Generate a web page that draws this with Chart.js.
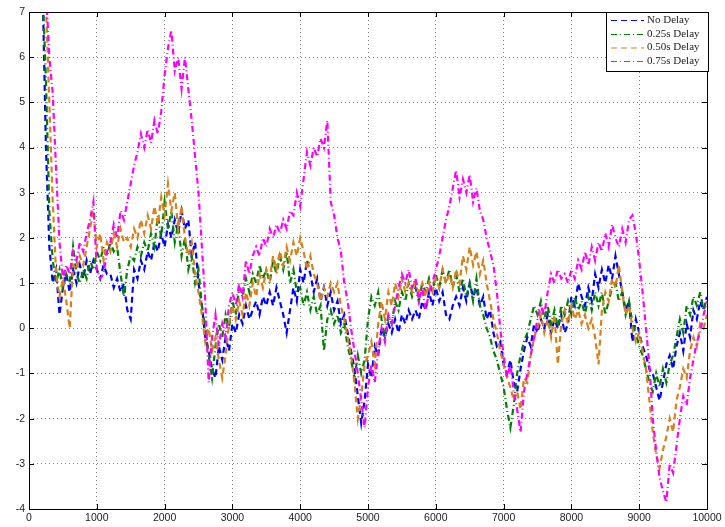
<!DOCTYPE html>
<html>
<head>
<meta charset="utf-8">
<script src="https://cdn.jsdelivr.net/npm/chart.js@4/dist/chart.umd.min.js"></script>
<style>
  html, body { margin: 0; padding: 0; background: #fff; }
  #wrap { width: 725px; height: 527px; }
</style>
</head>
<body>
<div id="wrap"><canvas id="c" width="725" height="527"></canvas></div>
<script>
// ---- data ----
const xStart = 200;     // first sample position
const xStep = 50;       // sample spacing
const xTicks = [0, 1000, 2000, 3000, 4000, 5000, 6000, 7000, 8000, 9000, 10000];
const yTicks = [-4, -3, -2, -1, 0, 1, 2, 3, 4, 5, 6, 7];
const seriesNames = ['No Delay', '0.25s Delay', '0.50s Delay', '0.75s Delay'];

const noDelay = [
  7.6, 4.0, 1.8, 1.0, 1.3, 0.3, 0.9, 1.2, 0.8, 1.3,
  1.0, 1.4, 1.1, 1.5, 1.2, 1.5, 1.3, 1.1, 1.4, 1.2,
  1.2, 0.9, 1.1, 0.8, 1.0, 0.4, 0.2, 1.3, 1.1, 1.5,
  1.3, 1.7, 1.5, 1.9, 1.7, 2.1, 1.8, 2.3, 2.0, 2.4,
  2.1, 2.6, 2.2, 2.4, 1.6, 1.9, 1.0, 0.5, -0.2, -0.5,
  -0.9, -1.1, -0.4, -0.7, -0.2, -0.5, 0.1, -0.1, 0.3, 0.1,
  0.5, 0.2, 0.4, 0.6, 0.3, 0.7, 0.5, 0.8, 0.5, 0.9,
  0.6, 0.3, -0.1, 0.4, 0.9, 0.6, 1.3, 1.0, 1.5, 1.2,
  0.8, 1.1, 0.6, 0.9, 0.5, 0.8, 0.4, 0.6, 0.1, 0.3,
  -0.1, -0.5, -0.9, -1.5, -2.1, -1.6, -0.8, -1.1, -0.4, -0.6,
  0.0, -0.2, 0.1, -0.1, 0.2, -0.1, 0.3, 0.1, 0.4, 0.2,
  0.4, 0.2, 0.6, 0.4, 0.8, 0.5, 0.9, 0.6, 0.8, 0.3,
  0.2, 0.5, 0.7, 0.5, 0.9, 0.6, 1.0, 0.7, 0.9, 0.5,
  0.7, 0.2, 0.4, -0.1, -0.4, -0.3, -0.8, -1.0, -0.7, -1.2,
  -1.4, -0.9, -0.5, -0.2, -0.4, 0.1, -0.1, 0.2, 0.0, 0.3,
  -0.1, 0.2, 0.0, 0.3, -0.1, 0.1, 0.7, 0.5, 1.0, 0.7,
  0.5, 0.9, 0.6, 1.2, 0.9, 1.3, 1.0, 1.4, 1.1, 1.6,
  1.2, 0.8, 0.4, 0.6, -0.3, 0.2, -0.1, -0.4, -0.6, -0.9,
  -1.0, -1.3, -1.6, -1.2, -0.8, -0.6, -0.9, -0.4, -0.1, -0.5,
  0.1, -0.2, 0.4, 0.2, 0.6, 0.4, 0.7
];

const delay025 = [
  7.5, 5.5, 2.6, 1.5, 1.0, 1.3, 0.9, 1.2, 1.0, 1.8,
  1.2, 1.0, 1.3, 1.1, 1.5, 1.3, 1.7, 1.5, 1.8, 1.6,
  1.9, 1.7, 1.8, 1.2, 0.7, 1.3, 1.6, 1.5, 1.8, 1.6,
  1.9, 1.7, 2.1, 1.8, 2.5, 2.0, 2.8, 2.2, 2.6, 1.9,
  2.3, 1.6, 2.0, 1.3, 1.6, 1.0, 1.3, 0.5, 0.0, -0.6,
  -1.1, -0.4, 0.1, -0.2, 0.3, 0.0, 0.6, 0.3, 0.9, 0.7,
  1.1, 0.8, 1.2, 1.0, 1.4, 1.1, 1.3, 1.0, 1.5, 1.2,
  1.6, 1.3, 1.7, 1.0, 1.3, 0.8, 0.9, 0.5, 0.8, 0.4,
  0.7, 0.3, 0.5, -0.5, 0.2, 0.4, 0.1, 0.3, -0.1, 0.1,
  -0.4, -0.7, -1.1, -0.6, -1.0, -0.7, 0.2, 0.7, 0.5, 0.8,
  0.2, -0.2, 0.3, 0.1, 0.6, 0.4, 0.8, 0.6, 1.0, 0.7,
  0.9, 0.6, 1.0, 0.8, 1.1, 0.8, 1.2, 0.9, 1.3, 1.0,
  1.3, 0.9, 1.2, 0.8, 1.1, 0.7, 1.0, 0.6, 1.1, 0.5,
  0.3, 0.0, -0.2, -0.5, -0.7, -1.0, -1.3, -1.8, -2.2, -1.7,
  -1.0, -0.6, -0.3, -0.1, 0.2, 0.5, 0.3, 0.6, 0.2, 0.5,
  0.1, 0.4, 0.0, 0.5, 0.3, 0.6, 0.3, 0.7, 0.4, 0.6,
  0.3, 0.7, 0.4, 0.8, 0.5, 0.8, 0.3, 0.6, 0.9, 1.0,
  0.6, 0.8, 0.3, 0.6, 0.1, -0.1, -0.4, -0.6, -0.9, -1.2,
  -1.4, -1.0, -1.3, -0.9, -1.2, -0.8, -0.6, -0.2, 0.2, -0.1,
  0.5, 0.3, 0.7, 0.5, 0.8, 0.4, 0.7
];

const delay050 = [
  8.0, 7.2, 5.0, 2.8, 1.2, 0.7, 1.1, 0.6, 0.0, 1.4,
  1.3, 1.6, 1.4, 1.8, 2.2, 2.6, 1.8, 2.1, 1.5, 1.9,
  1.7, 2.1, 1.8, 2.2, 1.9, 2.0, 1.8, 2.2, 2.0, 2.4,
  2.1, 2.5, 2.2, 2.7, 2.3, 2.9, 2.5, 3.2, 2.6, 3.0,
  2.2, 2.7, 2.0, 1.6, 1.9, 1.2, 0.8, 0.3, -0.3, 0.0,
  -0.5, -0.2, -0.7, -1.1, -0.6, 0.1, 0.5, 0.2, 0.6, 0.3,
  0.8, 0.5, 1.0, 0.7, 1.2, 0.9, 1.3, 1.1, 1.6, 1.3,
  1.7, 1.4, 1.8, 1.5, 1.9, 1.6, 2.0, 1.7, 1.3, 1.6,
  1.2, 1.0, 0.6, 0.9, 0.7, 1.0, 0.8, 1.0, 0.5, 0.2,
  -0.2, -0.6, -1.2, -2.0, -1.5, -0.8, -0.6, -0.3, -0.8, 0.1,
  0.6, 0.2, 0.8, 0.5, 1.0, 0.7, 1.1, 0.8, 1.0, 0.8,
  1.1, 0.8, 1.0, 0.7, 1.0, 0.8, 1.1, 0.9, 1.3, 1.0,
  1.2, 0.9, 1.3, 1.0, 1.6, 1.3, 1.8, 1.4, 1.7, 1.2,
  1.5, 1.0, 0.6, 0.2, -0.1, -0.5, -0.8, -1.1, -1.3, -1.6,
  -1.4, -1.8, -1.1, -1.2, -0.6, -0.2, 0.0, 0.3, -0.1, 0.2,
  -0.2, 0.3, -0.8, 0.1, 0.4, 0.1, 0.5, 0.2, 0.4, 0.1,
  0.3, 0.0, 0.2, -0.2, -0.8, 0.4, 0.8, 0.6, 1.1, 0.9,
  1.4, 0.8, 0.3, 0.5, 0.0, -0.3, -0.1, -0.5, -0.9, -1.6,
  -2.3, -2.8, -3.1, -2.7, -2.4, -2.0, -2.3, -1.6, -1.3, -0.9,
  -1.1, -0.5, -0.2, -0.4, 0.1, 0.0, 0.3
];

const delay075 = [
  8.5, 7.5, 6.0, 5.2, 3.5, 1.9, 1.1, 1.4, 1.2, 1.7,
  1.5, 1.9, 1.7, 2.1, 2.4, 2.8, 1.3, 1.1, 1.2, 1.7,
  1.9, 2.3, 2.0, 2.6, 2.4, 2.8, 3.2, 3.6, 3.9, 4.3,
  4.0, 4.4, 4.1, 4.6, 4.3, 4.8, 5.6, 6.2, 6.6, 5.7,
  6.0, 5.3, 6.0, 5.3, 4.6, 3.8, 3.0, 1.8, 0.6, -1.2,
  -0.2, 0.3, -0.4, 0.1, -0.2, 0.5, 0.8, 0.5, 1.0, 0.7,
  1.5, 1.2, 1.6, 1.8, 1.6, 2.0, 1.8, 2.2, 2.0, 2.3,
  2.1, 2.4, 2.2, 2.6, 2.5, 3.0, 2.7, 3.3, 3.9, 3.6,
  4.0, 3.8, 4.2, 4.0, 4.6, 2.8, 2.5, 2.0, 1.7, 1.0,
  0.6, 0.0, -0.5, -1.0, -1.6, -2.2, -1.3, -0.8, -1.2, -0.5,
  0.0, -0.3, 0.3, 0.1, 0.5, 0.9, 1.2, 1.0, 1.3, 0.9,
  1.1, 0.6, 0.9, 0.4, 0.8, 1.0, 1.3, 1.6, 2.0, 2.4,
  2.7, 3.1, 3.5, 2.9, 3.3, 3.0, 3.4, 2.8, 3.1, 2.6,
  2.4, 2.0, 1.7, 1.4, 0.8, 0.0, -0.6, -1.1, -0.8, -1.4,
  -1.8, -2.3, -1.4, -1.0, -0.6, -0.2, 0.2, 0.5, 0.3, 0.8,
  1.2, 1.0, 1.3, 1.1, 1.2, 1.0, 1.3, 1.1, 1.5, 1.3,
  1.7, 1.4, 1.8, 1.5, 1.9, 1.7, 2.1, 1.8, 2.3, 2.0,
  1.8, 2.2, 1.9, 2.4, 2.5, 2.1, 1.5, 0.8, 0.0, -0.8,
  -2.0, -2.7, -3.3, -3.6, -3.85, -3.0, -3.2, -2.6, -2.0, -1.5,
  -1.7, -1.1, -0.7, -0.3, -0.1, 0.3, 0.6
];

const seriesColors = ['#0000ff', '#008000', '#d98019', '#ff00ff'];
const seriesDashes = [[6, 4], [6, 3, 1, 3], [6, 4], [6, 3, 1, 3]];

function toPoints(arr) {
  return arr.map((v, i) => ({ x: xStart + i * xStep, y: v }));
}

const allSeries = [noDelay, delay025, delay050, delay075];

const datasets = allSeries.map((arr, k) => ({
  label: seriesNames[k],
  data: toPoints(arr),
  borderColor: seriesColors[k],
  backgroundColor: seriesColors[k],
  borderWidth: 2.2,
  borderDash: seriesDashes[k],
  pointRadius: 0,
  tension: 0,
  fill: false,
  order: 3 - k,
  clip: 0
}));

const frameAndTicks = {
  id: 'frameAndTicks',
  afterDatasetsDraw(chart) {
    const { ctx, chartArea: a, scales } = chart;
    ctx.save();
    ctx.strokeStyle = '#000';
    ctx.lineWidth = 1;
    ctx.setLineDash([]);
    ctx.beginPath();
    const tl = 5;
    xTicks.forEach(v => {
      const px = Math.round(scales.x.getPixelForValue(v)) + 0.5;
      ctx.moveTo(px, a.bottom); ctx.lineTo(px, a.bottom - tl);
      ctx.moveTo(px, a.top); ctx.lineTo(px, a.top + tl);
    });
    yTicks.forEach(v => {
      const py = Math.round(scales.y.getPixelForValue(v)) + 0.5;
      ctx.moveTo(a.left, py); ctx.lineTo(a.left + tl, py);
      ctx.moveTo(a.right, py); ctx.lineTo(a.right - tl, py);
    });
    ctx.stroke();
    ctx.strokeRect(Math.round(a.left) + 0.5, Math.round(a.top) + 0.5,
                   Math.round(a.right - a.left), Math.round(a.bottom - a.top));

    // legend box
    const bx = 606, by = 12, bw = 102, bh = 59;
    ctx.fillStyle = '#fff';
    ctx.fillRect(bx, by, bw, bh);
    ctx.strokeRect(bx + 0.5, by + 0.5, bw, bh);
    const rows = [20, 34, 47.5, 61];
    ctx.font = '11px "Liberation Serif", "DejaVu Serif", serif';
    ctx.textBaseline = 'middle';
    ctx.textAlign = 'left';
    seriesNames.forEach((name, k) => {
      ctx.save();
      ctx.strokeStyle = seriesColors[k];
      ctx.lineWidth = 1;
      ctx.setLineDash(seriesDashes[k]);
      ctx.beginPath();
      ctx.moveTo(611, rows[k] + 0.5);
      ctx.lineTo(644, rows[k] + 0.5);
      ctx.stroke();
      ctx.restore();
      ctx.fillStyle = '#222';
      ctx.fillText(name, 647, rows[k]);
    });
    ctx.restore();
  }
};

new Chart(document.getElementById('c'), {
  type: 'line',
  data: { datasets },
  options: {
    responsive: false,
    animation: false,
    events: [],
    layout: { padding: { left: 0, top: 12, right: 18, bottom: 0 } },
    plugins: { legend: { display: false }, tooltip: { enabled: false } },
    scales: {
      x: {
        type: 'linear',
        min: 0, max: 10000,
        afterBuildTicks: s => { s.ticks = xTicks.map(v => ({ value: v })); },
        afterFit: s => { s.height = 18; },
        ticks: { padding: 3, color: '#222', maxRotation: 0, autoSkip: false,
                 callback: v => String(v),
                 font: { family: '"Liberation Sans", Arial, sans-serif', size: 10.5 } },
        grid: { color: '#8c8c8c', lineWidth: 1, drawTicks: false },
        border: { display: false, dash: [1, 3] }
      },
      y: {
        type: 'linear',
        min: -4, max: 7,
        afterBuildTicks: s => { s.ticks = yTicks.map(v => ({ value: v })); },
        afterFit: s => { s.width = 29; },
        ticks: { padding: 4, color: '#222',
                 callback: v => String(v),
                 font: { family: '"Liberation Sans", Arial, sans-serif', size: 10.5 } },
        grid: { color: '#8c8c8c', lineWidth: 1, drawTicks: false },
        border: { display: false, dash: [1, 3] }
      }
    }
  },
  plugins: [frameAndTicks]
});
</script>
</body>
</html>
